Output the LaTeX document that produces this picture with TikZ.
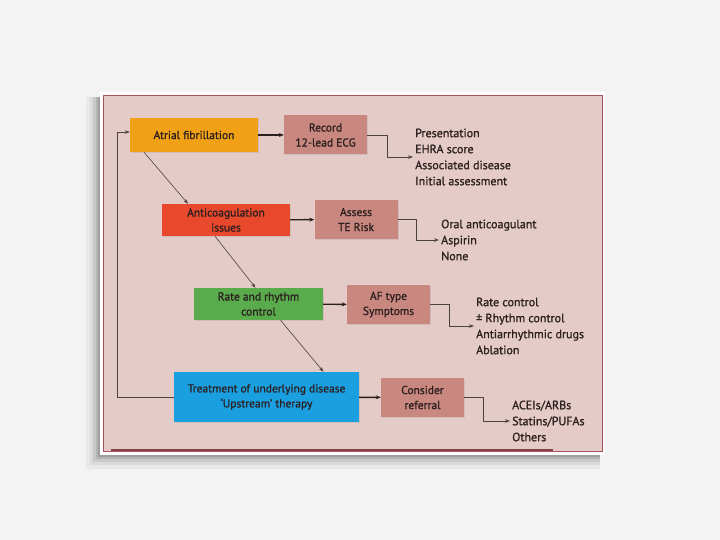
\documentclass[tikz,border=0pt]{standalone}
\usepackage{fontspec}
\setmainfont{PT Sans}[BoldFont=PT Sans, BoldFeatures={FakeBold=1}]
\usepackage{xcolor}
\usetikzlibrary{positioning, calc, arrows.meta, shadows}

\definecolor{pagebg}{HTML}{F3F3F3}
\definecolor{panelbg}{HTML}{E4CBC7}
\definecolor{panelline}{HTML}{A8525C}
\definecolor{rosebox}{HTML}{C8877F}
\definecolor{afcol}{HTML}{F0A116}
\definecolor{accol}{HTML}{E8482C}
\definecolor{rrcol}{HTML}{5AAB4B}
\definecolor{txcol}{HTML}{1A9FE0}
\definecolor{ink}{HTML}{2B1F1F}

\tikzset{
  stepbox/.style={draw=none, inner sep=1pt, align=center, text=ink,
    font=\fontsize{11.5}{15}\selectfont\bfseries,
    drop shadow={opacity=0.2, shadow xshift=1pt, shadow yshift=-1pt}},
  infobox/.style={stepbox, fill=rosebox, minimum width=83pt, minimum height=39pt},
  optlist/.style={anchor=west, align=left, inner sep=2pt, text=ink,
    font=\fontsize{12}{16}\selectfont\bfseries},
  mainarrow/.style={-{Stealth[length=5pt, width=4pt]}, line width=1.4pt, draw=ink},
  thinarrow/.style={-{Stealth[length=5pt, width=3.5pt]}, line width=0.6pt, draw=ink!85}
}

\begin{document}
\begin{tikzpicture}[x=1pt, y=-1pt]
      \useasboundingbox (0, 0) rectangle (720, 540);
      \fill[pagebg] (0, 0) rectangle (720, 540);

      % card with shadow
      \foreach \s/\o in {14/0.04, 10/0.06, 7/0.08, 4/0.10, 2/0.12}
        \fill[black, opacity=\o] (100-\s, 97) rectangle (600, 455+\s);
      \fill[white] (100, 92) rectangle (605, 455);
      \fill[panelbg] (103, 95) rectangle (602, 451);
      \draw[panelline, line width=0.6pt] (103, 95) rectangle (602, 451);
      \draw[panelline!80!black, line width=1.6pt] (111, 450) -- (553, 450);

      % steps
      \node[stepbox, fill=afcol, minimum width=128pt, minimum height=34pt] (af) at (194, 135) {Atrial fibrillation};
      \node[infobox] (ecg) at (325.5, 135) {Record\\12-lead ECG};
      \node[stepbox, fill=accol, minimum width=128pt, minimum height=32pt] (anticoag) at (226, 220) {Anticoagulation\\issues};
      \node[infobox] (terisk) at (356, 219.5) {Assess\\TE Risk};
      \node[stepbox, fill=rrcol, minimum width=129pt, minimum height=32pt] (rate) at (258.5, 304) {Rate and rhythm\\control};
      \node[infobox] (aftype) at (388.5, 304.5) {AF type\\Symptoms};
      \node[stepbox, fill=txcol, minimum width=185pt, minimum height=50pt] (treat) at (266.5, 397) {Treatment of underlying disease\\`Upstream' therapy};
      \node[infobox] (referral) at (422.5, 397.5) {Consider\\referral};

      % option lists
      \node[optlist] (list1) at (413, 157) {Presentation\\EHRA score\\Associated disease\\Initial assessment};
      \node[optlist] (list2) at (439, 240) {Oral anticoagulant\\Aspirin\\None};
      \node[optlist] (list3) at (474, 326) {Rate control\\± Rhythm control\\Antiarrhythmic drugs\\Ablation};
      \node[optlist] (list4) at (510, 421) {ACEIs/ARBs\\Statins/PUFAs\\Others};

      \draw[mainarrow] (af) -- (ecg);
      \draw[mainarrow] (anticoag) -- (terisk);
      \draw[mainarrow] (rate) -- (aftype);
      \draw[mainarrow] (treat) -- (referral);

      \draw[thinarrow] (ecg.east) -- ++(20, 0) |- (list1.west);
      \draw[thinarrow] (terisk.east) -- ++(19, 0) |- (list2.west);
      \draw[thinarrow] (aftype.east) -- ++(19, 0) |- (list3.west);
      \draw[thinarrow] (referral.east) -- ++(19, 0) |- (list4.west);

      \draw[thinarrow] ([xshift=-50pt]af.south) -- ([xshift=-38pt]anticoag.north);
      \draw[thinarrow] ([xshift=-11pt]anticoag.south) -- ([xshift=-3pt]rate.north);
      \draw[thinarrow] ([xshift=22pt]rate.south) -- ([xshift=57pt]treat.north);

      \draw[thinarrow] (treat.west) -- ++(-57, 0) |- ([yshift=3pt]af.west);
    \end{tikzpicture}
\end{document}
